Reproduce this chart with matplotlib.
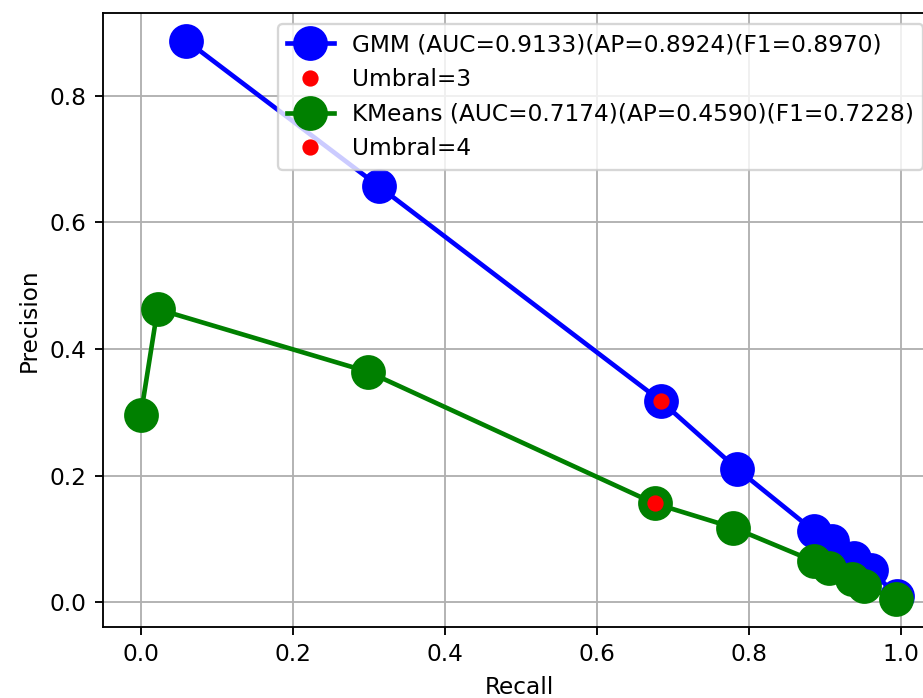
import matplotlib
matplotlib.use("Agg")
import matplotlib.pyplot as plt

# Precision-recall curves for the two clustering models
gmm_recall = [0.060, 0.313, 0.684, 0.784, 0.886, 0.909, 0.938, 0.960, 0.995]
gmm_precision = [0.887, 0.657, 0.318, 0.211, 0.112, 0.096, 0.070, 0.051, 0.010]
gmm_label = "GMM (AUC=0.9133)(AP=0.8924)(F1=0.8970)"
gmm_best_idx = 2
gmm_thr_label = "Umbral=3"

km_recall = [0.000, 0.022, 0.299, 0.676, 0.779, 0.885, 0.905, 0.935, 0.952, 0.993]
km_precision = [0.296, 0.463, 0.364, 0.156, 0.118, 0.065, 0.054, 0.036, 0.025, 0.005]
km_label = "KMeans (AUC=0.7174)(AP=0.4590)(F1=0.7228)"
km_best_idx = 3
km_thr_label = "Umbral=4"

DPI = 167
W, H = 924, 698
fig = plt.figure(figsize=(W / DPI, H / DPI), dpi=DPI)
ax = fig.add_axes([103 / W, 1 - 627 / H, (935 - 103) / W, (627 - 12.7) / H])

ax.plot(gmm_recall, gmm_precision, "-o", color="blue", lw=2, markersize=14, label=gmm_label)
ax.plot(gmm_recall[gmm_best_idx], gmm_precision[gmm_best_idx], "o", color="red",
        markersize=6, label=gmm_thr_label)
ax.plot(km_recall, km_precision, "-o", color="green", lw=2, markersize=14, label=km_label)
ax.plot(km_recall[km_best_idx], km_precision[km_best_idx], "o", color="red",
        markersize=6, label=km_thr_label)

ax.set_xlabel("Recall")
ax.set_ylabel("Precision")
ax.grid(True)
ax.legend(loc="upper right")

fig.savefig("out.png", dpi=DPI)
